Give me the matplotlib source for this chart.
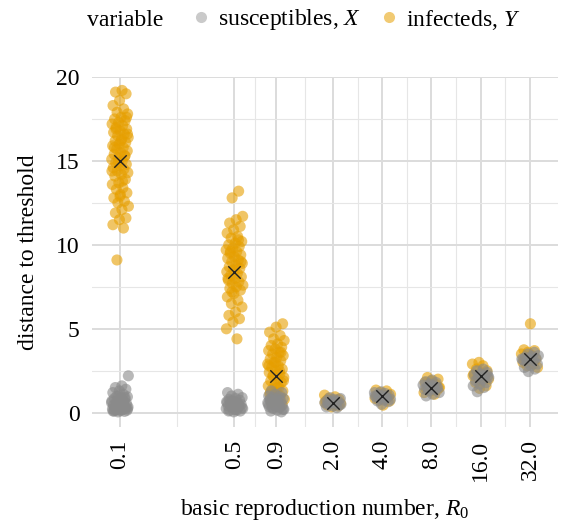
import numpy as np
import matplotlib
matplotlib.use("Agg")
import matplotlib.pyplot as plt
from matplotlib.lines import Line2D

plt.rcParams['font.family'] = ['Liberation Serif', 'DejaVu Serif']
plt.rcParams['mathtext.fontset'] = 'custom'
plt.rcParams['mathtext.rm'] = 'Liberation Serif'
plt.rcParams['mathtext.it'] = 'Liberation Serif:italic'

# ---- data ----
r0_values = [0.1, 0.5, 0.9, 2.0, 4.0, 8.0, 16.0, 32.0]
r0_labels = ["0.1", "0.5", "0.9", "2.0", "4.0", "8.0", "16.0", "32.0"]

infected_y01 = [19.2, 19.1, 19.0, 18.6, 18.3, 18.1, 17.9, 17.8, 17.6, 17.5, 17.4, 17.3, 17.2, 17.1, 17.0,
                16.9, 16.8, 16.7, 16.6, 16.5, 16.4, 16.3, 16.2, 16.1, 16.0, 15.9, 15.8, 15.7, 15.6, 15.5,
                15.4, 15.3, 15.2, 15.1, 15.0, 14.9, 14.8, 14.7, 14.6, 14.5, 14.4, 14.3, 14.2, 14.1, 13.9,
                13.7, 13.6, 13.4, 13.3, 13.1, 13.0, 12.8, 12.6, 12.5, 12.3, 12.1, 11.9, 11.6, 11.5, 11.2,
                11.0, 9.1, 16.6, 16.2, 15.8, 15.3, 14.9, 14.4, 13.8, 16.9, 17.6, 12.9]
infected_y05 = [13.2, 12.8, 11.7, 11.5, 11.3, 11.1, 10.9, 10.7, 10.5, 10.4, 10.2, 10.1, 10.0, 9.9, 9.8,
                9.7, 9.6, 9.5, 9.4, 9.3, 9.2, 9.1, 9.0, 8.9, 8.8, 8.7, 8.6, 8.5, 8.4, 8.3, 8.2, 8.1, 8.0,
                7.9, 7.8, 7.7, 7.6, 7.5, 7.4, 7.3, 7.1, 6.9, 6.7, 6.5, 6.3, 6.0, 5.8, 5.6, 5.4, 5.0, 4.4,
                9.6, 9.0, 8.5, 8.0, 10.3, 7.2]
infected_y09 = [5.3, 5.1, 4.8, 4.6, 4.4, 4.3, 4.1, 4.0, 3.9, 3.8, 3.7, 3.6, 3.5, 3.4, 3.3, 3.2, 3.1, 3.0,
                2.9, 2.8, 2.7, 2.6, 2.5, 2.4, 2.3, 2.2, 2.1, 2.0, 1.9, 1.8, 1.7, 1.6, 1.5, 1.4, 1.3, 1.2,
                1.1, 1.0, 0.9, 0.8, 0.7, 0.6, 0.5, 3.0, 2.8, 2.5, 2.2, 1.9, 1.5, 1.2, 3.6]
infected_y2 = [1.05, 0.95, 0.85, 0.8, 0.75, 0.7, 0.65, 0.6, 0.55, 0.5, 0.45, 0.4, 0.35, 0.6, 0.5, 0.7]
infected_y4 = [1.35, 1.3, 1.2, 1.1, 1.05, 1.0, 0.95, 0.9, 0.85, 0.8, 0.75, 0.7, 0.45, 1.0, 0.9]
infected_y8 = [2.1, 2.0, 1.9, 1.8, 1.7, 1.6, 1.5, 1.45, 1.4, 1.35, 1.3, 1.2, 1.1, 1.6, 1.5]
infected_y16 = [3.0, 2.9, 2.8, 2.6, 2.5, 2.4, 2.3, 2.2, 2.1, 2.0, 1.9, 1.8, 1.6, 1.45, 2.2]
infected_y32 = [5.3, 3.75, 3.7, 3.6, 3.5, 3.4, 3.3, 3.2, 3.1, 3.0, 2.9, 2.8, 2.7, 3.3, 3.1]

suscept_x01 = [2.2, 1.6, 1.5, 1.4, 1.3, 1.2, 1.1, 1.0, 0.95, 0.9, 0.85, 0.8, 0.75, 0.7, 0.65, 0.6, 0.55,
               0.5, 0.45, 0.4, 0.38, 0.35, 0.32, 0.3, 0.28, 0.25, 0.22, 0.2, 0.18, 0.15, 0.12, 0.1, 0.08,
               0.05, 0.6, 0.5, 0.4, 0.3, 0.2, 0.1, 0.7, 0.45, 0.25, 0.35, 0.15, 0.9, 1.0]
suscept_x05 = [1.2, 1.1, 1.0, 0.9, 0.85, 0.8, 0.75, 0.7, 0.65, 0.6, 0.55, 0.5, 0.45, 0.4, 0.35, 0.3, 0.25,
               0.2, 0.15, 0.1, 0.05, 0.6, 0.5, 0.4, 0.3, 0.2, 0.1, 0.45, 0.35, 0.25, 0.15, 0.7]
suscept_x09 = [1.3, 1.2, 1.1, 1.0, 0.95, 0.9, 0.85, 0.8, 0.75, 0.7, 0.65, 0.6, 0.55, 0.5, 0.45, 0.4, 0.35,
               0.3, 0.25, 0.2, 0.15, 0.1, 0.05, 0.6, 0.5, 0.4, 0.3, 0.2, 0.7, 0.8]
suscept_x2 = [0.9, 0.85, 0.8, 0.75, 0.7, 0.65, 0.6, 0.55, 0.5, 0.45, 0.4, 0.35, 0.3, 0.6, 0.5, 0.7, 0.55]
suscept_x4 = [1.25, 1.2, 1.15, 1.1, 1.05, 1.0, 0.95, 0.9, 0.85, 0.8, 0.75, 0.7, 0.65, 0.5, 1.0, 0.9]
suscept_x8 = [1.95, 1.85, 1.8, 1.7, 1.65, 1.6, 1.55, 1.5, 1.45, 1.4, 1.35, 1.3, 1.2, 1.1, 1.0, 1.5]
suscept_x16 = [2.6, 2.5, 2.4, 2.3, 2.25, 2.2, 2.15, 2.1, 2.0, 1.9, 1.8, 1.7, 1.6, 1.5, 1.25, 2.2]
suscept_x32 = [3.6, 3.5, 3.4, 3.35, 3.3, 3.25, 3.2, 3.15, 3.1, 3.0, 2.9, 2.8, 2.7, 2.6, 2.45, 3.2]

infected_means = [15.0, 8.4, 2.2, 0.6, 1.0, 1.5, 2.2, 3.2]

infected_groups = [infected_y01, infected_y05, infected_y09, infected_y2, infected_y4,
                   infected_y8, infected_y16, infected_y32]
suscept_groups = [suscept_x01, suscept_x05, suscept_x09, suscept_x2, suscept_x4,
                  suscept_x8, suscept_x16, suscept_x32]

col_s = "#8a8a8a"
col_i = "#E69F00"
alpha = 0.6
msize = 64
FS = 17

W, H = 562, 523
fig = plt.figure(figsize=(W / 100, H / 100), dpi=100)
ax = fig.add_axes([92 / W, 1 - 427 / H, (558 - 92) / W, (427 - 77) / H])


def jitter_x(center, n, phase):
    k = np.arange(n)
    frac = ((k + 1) * 0.6180339887 + phase) % 1.0
    return center * np.exp((frac - 0.5) * 0.24)


for gi, (c, ys) in enumerate(zip(r0_values, infected_groups)):
    ax.scatter(jitter_x(c, len(ys), 0.13 * gi), ys, s=msize, color=col_i, alpha=alpha,
               edgecolors='none', zorder=3)
for gi, (c, ys) in enumerate(zip(r0_values, suscept_groups)):
    ax.scatter(jitter_x(c, len(ys), 0.37 + 0.11 * gi), ys, s=msize, color=col_s, alpha=alpha,
               edgecolors='none', zorder=4)
ax.scatter(r0_values, infected_means, marker='x', s=80, color='#222222', linewidths=1.0, zorder=5)

ax.set_xscale('log')
ax.set_xlim(0.0674, 47.5)
ax.set_ylim(-0.85, 20.0)

ax.set_xticks(r0_values)
ax.set_xticklabels(r0_labels, rotation=90)
minor_x = [np.sqrt(a * b) for a, b in zip(r0_values[:-1], r0_values[1:])]
ax.set_xticks(minor_x, minor=True)
ax.xaxis.set_minor_formatter(matplotlib.ticker.NullFormatter())
ax.set_yticks([0, 5, 10, 15, 20])
ax.set_yticks([2.5, 7.5, 12.5, 17.5], minor=True)

ax.grid(which='major', color='#dcdcdc', linewidth=1.4, zorder=0)
ax.grid(which='minor', color='#e6e6e6', linewidth=0.8, zorder=0)
ax.set_axisbelow(True)
for sp in ax.spines.values():
    sp.set_visible(False)
ax.tick_params(which='both', length=0, labelsize=FS, colors='black')
ax.tick_params(axis='x', pad=9)
ax.tick_params(axis='y', pad=9)

ax.set_xlabel("basic reproduction number, $R_0$", fontsize=FS, labelpad=12)
ax.set_ylabel("distance to threshold", fontsize=FS, labelpad=12)

fig.text(87 / W, 1 - 20 / H, "variable", fontsize=FS, va='center', ha='left')
handles = [Line2D([], [], marker='o', linestyle='none', markersize=8, color=col_s, alpha=0.45,
                  markeredgewidth=0),
           Line2D([], [], marker='o', linestyle='none', markersize=8, color=col_i, alpha=0.55,
                  markeredgewidth=0)]
fig.legend(handles, ["susceptibles, $X$", "infecteds, $Y$"], loc='center left',
           bbox_to_anchor=(166 / W, 1 - 20 / H), ncol=2, frameon=False, fontsize=FS,
           handletextpad=0.1, columnspacing=0.6, handlelength=1.2)

fig.savefig("out.png", dpi=100)
